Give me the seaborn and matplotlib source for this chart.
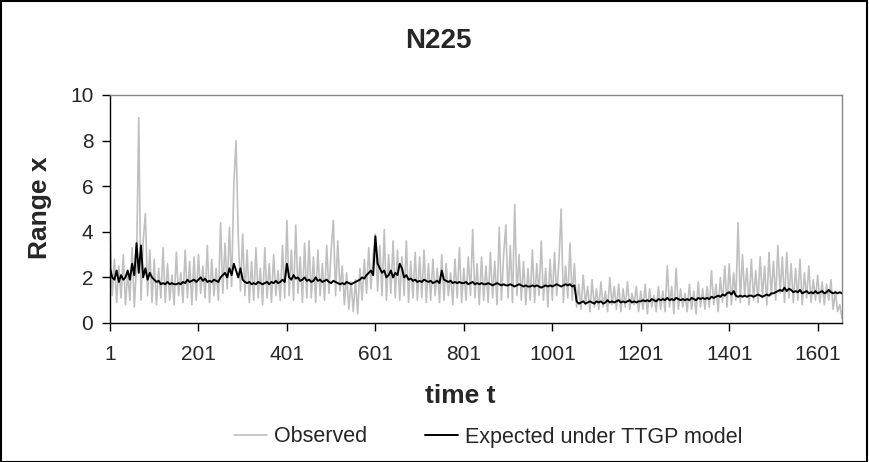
import matplotlib
matplotlib.use("Agg")
import matplotlib.pyplot as plt
import seaborn as sns
import pandas as pd
import numpy as np
from matplotlib.patches import Rectangle

t_start, t_step = 1, 5
observed = [
    4.2, 1.2, 2.8, 0.9, 2.5, 1.1, 3.0, 0.8, 2.2, 1.0,
    3.3, 0.7, 2.6, 9.0, 1.0, 3.6, 4.8, 1.2, 3.2, 0.9,
    2.8, 0.8, 2.4, 1.1, 3.3, 0.9, 2.6, 1.0, 2.1, 0.8,
    3.1, 1.2, 2.2, 0.9, 3.2, 1.1, 2.7, 0.8, 2.9, 1.0,
    3.0, 1.3, 2.5, 1.1, 3.4, 0.9, 2.8, 1.2, 2.4, 1.0,
    4.4, 1.3, 3.5, 1.5, 4.2, 1.6, 6.1, 8.0, 3.8, 1.4,
    3.9, 1.2, 3.2, 0.9, 2.7, 1.0, 3.3, 1.1, 2.4, 0.8,
    3.3, 1.1, 2.6, 0.9, 3.0, 1.2, 2.3, 1.0, 3.4, 1.1,
    4.5, 1.2, 3.2, 1.0, 4.3, 1.3, 2.9, 0.9, 3.5, 1.1,
    3.6, 1.1, 2.9, 0.9, 3.2, 1.2, 2.6, 1.0, 3.4, 1.3,
    3.2, 4.5, 1.2, 3.6, 1.4, 2.5, 0.8, 2.2, 0.6, 1.8,
    0.5, 1.9, 0.4, 2.4, 1.0, 2.8, 1.3, 3.3, 1.5, 3.0,
    3.9, 1.4, 3.4, 1.2, 4.1, 1.0, 3.0, 1.3, 3.6, 1.1,
    3.2, 1.0, 2.9, 1.2, 3.6, 0.9, 2.7, 1.1, 3.1, 1.0,
    2.9, 1.1, 3.2, 0.9, 2.6, 1.0, 2.8, 1.2, 2.4, 0.9,
    3.0, 1.0, 2.6, 1.2, 2.2, 0.8, 2.8, 1.1, 3.3, 0.9,
    2.4, 1.0, 2.9, 1.2, 4.1, 1.1, 2.6, 0.8, 2.9, 1.0,
    2.5, 0.9, 3.1, 1.1, 2.7, 0.8, 4.2, 1.0, 3.0, 4.3,
    1.1, 3.4, 0.9, 5.2, 1.2, 3.0, 1.0, 2.7, 0.8, 2.4,
    1.0, 3.2, 0.9, 2.6, 1.2, 3.6, 1.0, 2.4, 0.7, 2.8,
    1.0, 3.1, 1.2, 2.7, 5.0, 0.9, 2.5, 1.1, 3.5, 1.0,
    2.6, 0.7, 1.7, 0.6, 2.1, 0.8, 1.6, 0.5, 1.9, 0.7,
    1.5, 0.6, 1.8, 0.7, 1.4, 0.5, 2.0, 0.8, 1.6, 0.6,
    1.7, 0.5, 1.5, 0.7, 1.8, 0.6, 1.3, 0.8, 1.6, 0.5,
    1.4, 0.6, 1.7, 0.4, 1.5, 0.7, 1.2, 0.5, 1.6, 0.6,
    1.4, 0.5, 2.5, 0.7, 1.6, 0.4, 2.4, 0.6, 1.5, 0.7,
    1.3, 0.5, 1.7, 0.6, 1.4, 0.4, 1.8, 0.7, 1.5, 0.6,
    1.6, 0.7, 2.3, 0.8, 1.7, 0.5, 2.0, 0.9, 2.5, 0.7,
    2.6, 0.8, 2.2, 1.0, 4.4, 0.9, 3.0, 1.2, 2.4, 0.8,
    2.8, 1.0, 2.3, 0.9, 2.9, 1.1, 2.5, 0.8, 3.1, 1.2,
    2.7, 1.0, 3.4, 1.3, 2.9, 0.9, 3.1, 1.1, 2.6, 0.9,
    2.4, 1.0, 2.8, 0.8, 2.2, 1.1, 2.5, 0.9, 1.9, 1.0,
    2.1, 0.9, 1.8, 0.8, 1.7, 1.0, 1.9, 0.6, 1.4, 0.5,
    0.8, 0.2,
]
expected = [
    2.4, 2.0, 1.9, 2.3, 1.8, 2.1, 1.9, 2.0, 2.3, 1.9,
    2.6, 2.1, 3.5, 2.2, 3.4, 2.0, 2.4, 1.9, 2.2, 2.0,
    1.9, 1.8, 1.85, 1.7, 1.75, 1.7, 1.8, 1.7, 1.75, 1.7,
    1.7, 1.75, 1.7, 1.8, 1.75, 1.9, 1.8, 1.85, 1.9, 1.8,
    1.9, 2.0, 1.85, 1.95, 1.8, 1.85, 1.8, 1.9, 1.85, 1.8,
    2.0, 2.1, 2.2, 2.0, 2.4, 2.1, 2.6, 2.3, 2.0, 2.4,
    1.9, 1.8, 1.75, 1.8, 1.7, 1.75, 1.7, 1.8, 1.75, 1.7,
    1.75, 1.8, 1.7, 1.8, 1.75, 1.85, 1.75, 1.8, 1.9, 1.8,
    2.6, 2.0, 1.9, 2.1, 1.95, 2.0, 1.85, 1.9, 2.0, 1.85,
    1.9, 1.8, 1.85, 2.0, 1.85, 1.9, 1.8, 1.85, 1.9, 1.8,
    1.75, 1.85, 1.8, 1.75, 1.7, 1.75, 1.7, 1.8, 1.75, 1.7,
    1.75, 1.8, 1.85, 1.9, 2.0, 1.95, 2.1, 2.2, 2.3, 2.1,
    3.8, 2.6, 2.4, 2.2, 2.3, 2.0, 2.1, 2.3, 2.0, 2.2,
    2.1, 2.6, 2.4, 2.0, 2.1, 1.9, 1.95, 1.85, 1.9, 1.8,
    1.85, 1.8, 1.9, 1.85, 1.8, 1.85, 1.75, 1.8, 1.85, 1.75,
    2.3, 1.9, 1.85, 1.8, 1.85, 1.75, 1.8, 1.75, 1.8, 1.75,
    1.75, 1.8, 1.7, 1.75, 1.8, 1.7, 1.75, 1.7, 1.75, 1.7,
    1.7, 1.75, 1.7, 1.65, 1.7, 1.75, 1.7, 1.65, 1.7, 1.65,
    1.65, 1.7, 1.65, 1.6, 1.65, 1.7, 1.65, 1.6, 1.65, 1.6,
    1.6, 1.65, 1.6, 1.65, 1.6, 1.55, 1.6, 1.65, 1.6, 1.65,
    1.6, 1.65, 1.7, 1.65, 1.6, 1.65, 1.7, 1.65, 1.7, 1.6,
    1.65, 0.95, 0.85, 0.9, 0.95, 0.85, 0.9, 0.95, 0.9, 0.85,
    0.95, 0.9, 0.95, 0.85, 0.9, 1.0, 0.9, 0.95, 0.9, 0.95,
    1.0, 0.9, 0.95, 0.9, 0.95, 1.0, 0.9, 0.95, 0.9, 0.95,
    0.95, 1.0, 0.95, 1.0, 0.95, 1.05, 1.0, 0.95, 1.05, 1.0,
    1.05, 1.0, 1.1, 1.0, 1.05, 1.0, 1.1, 1.05, 1.0, 1.05,
    1.0, 1.05, 1.0, 1.1, 1.05, 1.0, 1.1, 1.05, 1.1, 1.05,
    1.1, 1.05, 1.15, 1.1, 1.15, 1.2, 1.15, 1.25, 1.2, 1.3,
    1.35, 1.25, 1.4, 1.2, 1.15, 1.2, 1.15, 1.2, 1.15, 1.2,
    1.2, 1.15, 1.2, 1.25, 1.2, 1.15, 1.2, 1.25, 1.2, 1.3,
    1.3, 1.35, 1.4, 1.45, 1.4, 1.55, 1.4, 1.5, 1.45, 1.35,
    1.4, 1.35, 1.45, 1.3, 1.35, 1.4, 1.3, 1.35, 1.3, 1.4,
    1.3, 1.35, 1.4, 1.3, 1.35, 1.45, 1.35, 1.3, 1.35, 1.3,
    1.35, 1.3,
]
x_ticks = [1, 201, 401, 601, 801, 1001, 1201, 1401, 1601]
y_ticks = [0, 2, 4, 6, 8, 10]
title = "N225"
x_label = "time t"
y_label = "Range x"
series_names = ["Observed", "Expected under TTGP model"]

t = t_start + t_step * np.arange(len(observed))
obs_df = pd.DataFrame({"t": t, "x": observed})
exp_df = pd.DataFrame({"t": t, "x": expected})

sns.set_style("white")
plt.rcParams["font.family"] = ["Liberation Sans", "DejaVu Sans"]

W, H = 869, 462
fig = plt.figure(figsize=(W / 100, H / 100), dpi=100)
ax = fig.add_axes([110 / W, 1 - 323 / H, (842 - 110) / W, (323 - 95) / H])

sns.lineplot(data=obs_df, x="t", y="x", ax=ax, color="#c0c0c0", lw=1.2,
             label=series_names[0])
sns.lineplot(data=exp_df, x="t", y="x", ax=ax, color="black", lw=1.4,
             label=series_names[1])

ax.set_xlim(1, t[-1])
ax.set_ylim(0, 10)
ax.set_xticks(x_ticks)
ax.set_yticks(y_ticks)
ax.tick_params(axis="both", direction="out", length=6, width=1, color="black",
               labelsize=15, bottom=True, left=True)
ax.tick_params(axis="x", pad=10)
ax.tick_params(axis="y", pad=6)
for s in ["left", "bottom"]:
    ax.spines[s].set_color("black")
    ax.spines[s].set_linewidth(1)
for s in ["top", "right"]:
    ax.spines[s].set_color("#888888")
    ax.spines[s].set_linewidth(1)

ax.set_xlabel("")
ax.set_ylabel("")
fig.text(460 / W, 1 - 396 / H, x_label, ha="center", va="center",
         fontsize=19, fontweight="bold")
fig.text(40 / W, 1 - 208 / H, y_label, ha="center", va="center", rotation=90,
         fontsize=19, fontweight="bold")
fig.text(438 / W, 1 - 41 / H, title, ha="center", va="center",
         fontsize=20, fontweight="bold")

handles, labels = ax.get_legend_handles_labels()
ax.get_legend().remove()
fig.legend(handles, labels, loc="center", bbox_to_anchor=(488 / W, 1 - 437 / H),
           ncol=2, frameon=False, fontsize=15.5, handlelength=1.55,
           columnspacing=2.7, handletextpad=0.3)

fig.add_artist(Rectangle((0.001, 0.001), 0.997, 0.997, transform=fig.transFigure,
                         fill=False, edgecolor="black", lw=1.5))

fig.savefig("out.png", dpi=100)
